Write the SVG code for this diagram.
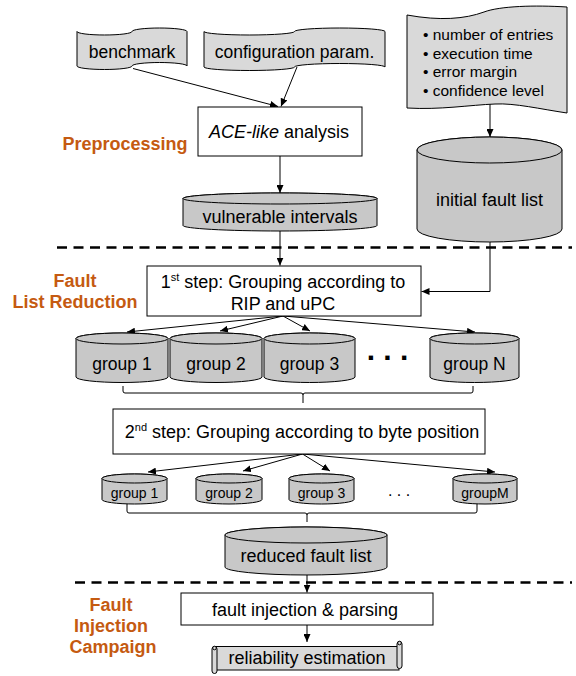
<svg xmlns="http://www.w3.org/2000/svg" width="576" height="676" viewBox="0 0 576 676">
<style>
text{font-family:"Liberation Sans",Arial,sans-serif;fill:#000}
.t{font-size:18px;text-anchor:middle}
.tp{font-size:17.5px;text-anchor:middle}
.b{font-size:15.5px}
.g{font-size:17.5px;text-anchor:middle}
.gs{font-size:14px;text-anchor:middle}
.lab{font-size:18px;font-weight:bold;fill:#C55A11;text-anchor:middle}
.tape{fill:#d9d9d9;stroke:#000;stroke-width:1}
.cyl{fill:#c8c8c8;stroke:#000;stroke-width:1}
.box{fill:#fff;stroke:#000;stroke-width:1}
.c{fill:none;stroke:#000;stroke-width:1}
.dash{fill:none;stroke:#000;stroke-width:2.5;stroke-dasharray:10 6.5}
</style>
<defs>
<marker id="ah" markerUnits="userSpaceOnUse" markerWidth="9" markerHeight="7" refX="8" refY="3.5" orient="auto">
<path d="M0,0 L8,3.5 L0,7 z" fill="#000"/>
</marker>
</defs>

<!-- section separators -->
<g id="separators">
<line class="dash" x1="57" y1="247.5" x2="572" y2="247.5"/>
<line class="dash" x1="75" y1="582.5" x2="572" y2="582.5"/>
</g>

<!-- phase labels -->
<g id="labels">
<text class="lab" x="125" y="150">Preprocessing</text>
<text class="lab" x="75" y="287">Fault</text>
<text class="lab" x="75" y="308">List Reduction</text>
<text class="lab" x="111" y="611">Fault</text>
<text class="lab" x="111" y="632">Injection</text>
<text class="lab" x="113" y="653">Campaign</text>
</g>

<!-- connectors -->
<g id="connectors">
<line class="c" x1="133" y1="68.5" x2="278" y2="106.5" marker-end="url(#ah)"/>
<line class="c" x1="297" y1="67" x2="281" y2="106.5" marker-end="url(#ah)"/>
<line class="c" x1="280" y1="156" x2="280" y2="193" marker-end="url(#ah)"/>
<line class="c" x1="490" y1="104" x2="490" y2="137" marker-end="url(#ah)"/>
<line class="c" x1="280" y1="231" x2="280" y2="265.5" marker-end="url(#ah)"/>
<polyline class="c" points="490,242 490,291.5 421.5,291.5" marker-end="url(#ah)"/>
<line class="c" x1="283" y1="316" x2="127" y2="332" marker-end="url(#ah)"/>
<line class="c" x1="283" y1="316" x2="220" y2="331" marker-end="url(#ah)"/>
<line class="c" x1="283" y1="316" x2="310" y2="331" marker-end="url(#ah)"/>
<line class="c" x1="283" y1="316" x2="475" y2="332" marker-end="url(#ah)"/>
<path class="c" d="M123,386 L123,391 Q123,393 125,393 L301,393 Q303,393 303,395 L303,403 M303,395 Q303,393 305,393 L471,393 Q473,393 473,391 L473,386"/>
<line class="c" x1="302.5" y1="454" x2="148" y2="472" marker-end="url(#ah)"/>
<line class="c" x1="302.5" y1="454" x2="243" y2="471" marker-end="url(#ah)"/>
<line class="c" x1="302.5" y1="454" x2="330" y2="471" marker-end="url(#ah)"/>
<line class="c" x1="302.5" y1="454" x2="495" y2="472" marker-end="url(#ah)"/>
<path class="c" d="M127,504 L127,511 Q127,513 129,513 L305,513 Q307,513 307,515 L307,522 M307,515 Q307,513 309,513 L475,513 Q477,513 477,511 L477,504"/>
<line class="c" x1="307" y1="575" x2="307" y2="592.5" marker-end="url(#ah)"/>
<line class="c" x1="307" y1="625" x2="307" y2="642" marker-end="url(#ah)"/>
</g>

<!-- inputs -->
<g id="benchmark">
<path class="tape" d="M77,31.5 A27.5,3.5 0 0 0 132,31.5 A27.5,3.5 0 0 1 187,31.5 L187,66 A27.5,3.5 0 0 0 132,66 A27.5,3.5 0 0 1 77,66 Z"/>
<text class="tp" x="132" y="58">benchmark</text>
</g>
<g id="config">
<path class="tape" d="M204,31.5 A45.25,3.5 0 0 0 294.5,31.5 A45.25,3.5 0 0 1 385,31.5 L385,67 A45.25,3.5 0 0 0 294.5,67 A45.25,3.5 0 0 1 204,67 Z"/>
<text class="tp" x="294.5" y="58">configuration param.</text>
</g>
<g id="parameters">
<path class="tape" d="M407,15 C440,21 465,19 484,12 C500,6 535,5 567,7 L567,113 C540,109 515,103 495,104 C470,105 440,110 407,108 Z"/>
<text class="b" x="423" y="40">• number of entries</text>
<text class="b" x="423" y="58.5">• execution time</text>
<text class="b" x="423" y="77">• error margin</text>
<text class="b" x="423" y="95.5">• confidence level</text>
</g>

<g id="ace">
<rect class="box" x="198" y="107" width="164" height="49"/>
<text class="t" x="279" y="138"><tspan font-style="italic">ACE-like</tspan> analysis</text>
</g>
<g id="vulnerable">
<path class="cyl" d="M183,198.5 A97,5.5 0 0 1 377,198.5 L377,225.5 A97,5.5 0 0 1 183,225.5 Z"/>
<ellipse class="cyl" cx="280" cy="198.5" rx="97" ry="5.5"/>
<text class="t" x="280" y="223">vulnerable intervals</text>
</g>
<g id="initial">
<path class="cyl" d="M417,150 A72.5,13 0 0 1 562,150 L562,229 A72.5,13 0 0 1 417,229 Z"/>
<ellipse class="cyl" cx="489.5" cy="150" rx="72.5" ry="13"/>
<text class="t" x="489.5" y="206">initial fault list</text>
</g>

<g id="step1">
<rect class="box" x="147" y="266" width="274" height="50"/>
<text class="t" x="283" y="288">1<tspan font-size="11" dy="-7">st</tspan><tspan dy="7"> step: Grouping according to</tspan></text>
<text class="t" x="283" y="310">RIP and uPC</text>
</g>

<g id="g1a">
<path class="cyl" d="M76,338.5 A46,5.5 0 0 1 168,338.5 L168,377 A46,5.5 0 0 1 76,377 Z"/>
<ellipse class="cyl" cx="122" cy="338.5" rx="46" ry="5.5"/>
<text class="g" x="122" y="370">group 1</text>
</g>
<g id="g2a">
<path class="cyl" d="M170,338.5 A46,5.5 0 0 1 262,338.5 L262,377 A46,5.5 0 0 1 170,377 Z"/>
<ellipse class="cyl" cx="216" cy="338.5" rx="46" ry="5.5"/>
<text class="g" x="216" y="370">group 2</text>
</g>
<g id="g3a">
<path class="cyl" d="M264,338.5 A45.5,5.5 0 0 1 355,338.5 L355,377 A45.5,5.5 0 0 1 264,377 Z"/>
<ellipse class="cyl" cx="309.5" cy="338.5" rx="45.5" ry="5.5"/>
<text class="g" x="309.5" y="370">group 3</text>
</g>
<g id="dotsA">
<text x="387.5" y="360" style="font-size:30px;font-weight:bold;text-anchor:middle">. . .</text>
</g>
<g id="gNa">
<path class="cyl" d="M430,338.5 A44.5,5.5 0 0 1 519,338.5 L519,377 A44.5,5.5 0 0 1 430,377 Z"/>
<ellipse class="cyl" cx="474.5" cy="338.5" rx="44.5" ry="5.5"/>
<text class="g" x="474.5" y="370">group N</text>
</g>

<g id="step2">
<rect class="box" x="113" y="409" width="372" height="45"/>
<text class="t" x="302" y="438">2<tspan font-size="11" dy="-7">nd</tspan><tspan dy="7"> step: Grouping according to byte position</tspan></text>
</g>

<g id="g1b">
<path class="cyl" d="M102,478.5 A32.5,4.5 0 0 1 167,478.5 L167,499.5 A32.5,4.5 0 0 1 102,499.5 Z"/>
<ellipse class="cyl" cx="134.5" cy="478.5" rx="32.5" ry="4.5"/>
<text class="gs" x="134.5" y="498">group 1</text>
</g>
<g id="g2b">
<path class="cyl" d="M196,478.5 A33,4.5 0 0 1 262,478.5 L262,499.5 A33,4.5 0 0 1 196,499.5 Z"/>
<ellipse class="cyl" cx="229" cy="478.5" rx="33" ry="4.5"/>
<text class="gs" x="229" y="498">group 2</text>
</g>
<g id="g3b">
<path class="cyl" d="M289,478.5 A32.5,4.5 0 0 1 354,478.5 L354,499.5 A32.5,4.5 0 0 1 289,499.5 Z"/>
<ellipse class="cyl" cx="321.5" cy="478.5" rx="32.5" ry="4.5"/>
<text class="gs" x="321.5" y="498">group 3</text>
</g>
<g id="dotsB">
<text x="399" y="496" style="font-size:16px;text-anchor:middle">. . .</text>
</g>
<g id="gMb">
<path class="cyl" d="M453,478.5 A32,4.5 0 0 1 517,478.5 L517,499.5 A32,4.5 0 0 1 453,499.5 Z"/>
<ellipse class="cyl" cx="485" cy="478.5" rx="32" ry="4.5"/>
<text class="gs" x="485" y="498">groupM</text>
</g>

<g id="reduced">
<path class="cyl" d="M225,535 A81,8 0 0 1 387,535 L387,567 A81,8 0 0 1 225,567 Z"/>
<ellipse class="cyl" cx="306" cy="535" rx="81" ry="8"/>
<text class="t" x="306" y="562">reduced fault list</text>
</g>

<g id="injection">
<rect class="box" x="181" y="593" width="252" height="32"/>
<text class="t" x="305" y="616">fault injection &amp; parsing</text>
</g>

<g id="reliability">
<rect class="tape" x="215" y="646.5" width="184" height="23.5"/>
<rect class="tape" x="397" y="641.5" width="5" height="27" rx="2.5"/>
<circle class="tape" cx="399.5" cy="643" r="1.8"/>
<rect class="tape" x="212" y="646.5" width="5" height="27" rx="2.5"/>
<circle class="tape" cx="214.5" cy="648" r="1.8"/>
<text class="t" x="307" y="664">reliability estimation</text>
</g>
</svg>
